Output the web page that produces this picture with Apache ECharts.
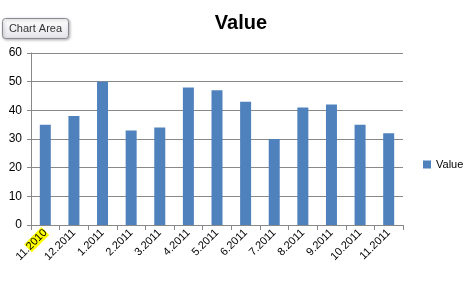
<!DOCTYPE html>
<html><head><meta charset="utf-8">
<script src="https://cdn.jsdelivr.net/npm/echarts@6/dist/echarts.min.js"></script>
<style>html,body{margin:0;padding:0;background:#fff}#c{width:469px;height:283px}</style>
</head><body><div id="c"></div>
<script>
const categories = ['11.2010','12.2011','1.2011','2.2011','3.2011','4.2011','5.2011','6.2011','7.2011','8.2011','9.2011','10.2011','11.2011'];
const values = [35, 38, 50, 33, 34, 48, 47, 43, 30, 41, 42, 35, 32];
const yTicks = [0, 10, 20, 30, 40, 50, 60];

const chart = echarts.init(document.getElementById('c'));
const font = 'Liberation Sans, Arial, sans-serif';
chart.setOption({
  animation: false,
  title: { text: 'Value', left: 236, top: 8, textAlign: 'center',
    textStyle: { fontFamily: font, fontSize: 20, fontWeight: 'bold', color: '#000' } },
  legend: { left: 418, top: 154, orient: 'vertical', itemWidth: 8, itemHeight: 8,
    itemGap: 4, icon: 'rect', textStyle: { fontFamily: font, fontSize: 11, color: '#000' },
    data: ['Value'] },
  grid: { left: 31, right: 66, top: 53, bottom: 58 },
  xAxis: { type: 'category', data: categories,
    axisLine: { lineStyle: { color: '#888' } },
    axisTick: { show: true, length: 5, lineStyle: { color: '#888' } },
    axisLabel: { rotate: 45, interval: 0, fontFamily: font, fontSize: 11, color: '#000', margin: 6,
      formatter: function (v, i) { return i === 0 ? '11.{hl|2010}' : v; },
      rich: { hl: { backgroundColor: '#ffff00', fontFamily: font, fontSize: 11, color: '#000' } } } },
  yAxis: { type: 'value', min: yTicks[0], max: yTicks[yTicks.length - 1], interval: 10,
    axisLine: { show: true, lineStyle: { color: '#888' } },
    axisTick: { show: true, length: 4, lineStyle: { color: '#888' } },
    splitLine: { lineStyle: { color: '#888' } },
    axisLabel: { fontFamily: font, fontSize: 12, color: '#000', margin: 9 } },
  series: [{ name: 'Value', type: 'bar', data: values, barWidth: 11,
    itemStyle: { color: '#4f81bd' } }],
  graphic: [{ type: 'group', left: 2, top: 18, children: [
    { type: 'rect', shape: { x: 0, y: 0, width: 66, height: 20, r: 3 },
      style: { fill: { type: 'linear', x: 0, y: 0, x2: 0, y2: 1,
        colorStops: [{ offset: 0, color: '#ffffff' }, { offset: 1, color: '#e4e4ea' }] },
        stroke: '#8a8a95', lineWidth: 1, shadowBlur: 3, shadowOffsetX: 1, shadowOffsetY: 1, shadowColor: 'rgba(0,0,0,0.3)' } },
    { type: 'text', x: 33, y: 10, style: { text: 'Chart Area', fontFamily: font, fontSize: 11,
      fill: '#333', align: 'center', verticalAlign: 'middle' } }
  ] }]
});
</script></body></html>
